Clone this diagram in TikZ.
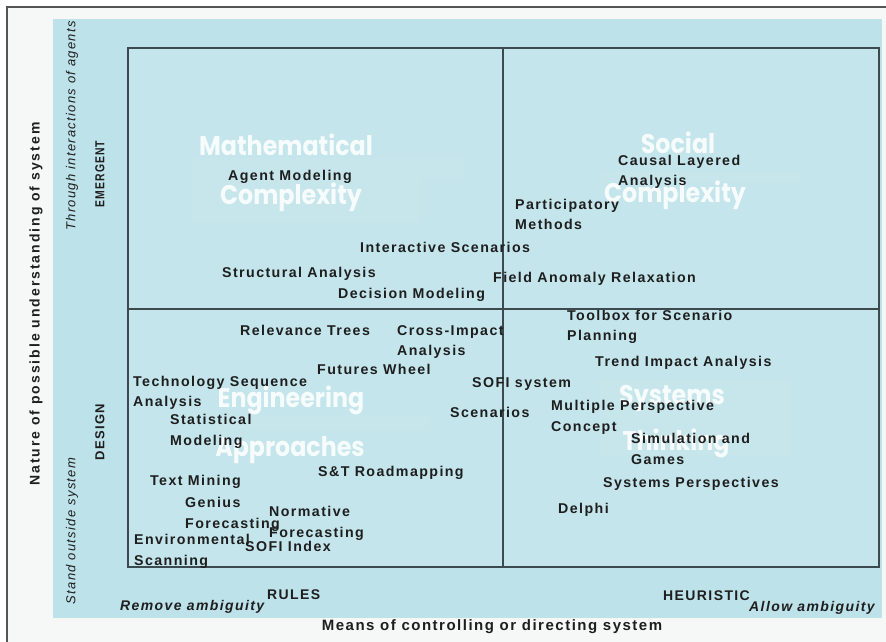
\documentclass[tikz,border=0pt]{standalone}
\usepackage{fontspec}
\setmainfont{Liberation Sans}
\newfontfamily\lblfont[LetterSpace=10]{Liberation Sans}
\newfontfamily\widefont[LetterSpace=14]{Liberation Sans}
\newfontfamily\bigfont{Poppins}
\definecolor{pagebg}{HTML}{F6F8F8}
\definecolor{outerblue}{HTML}{BDE2E9}
\definecolor{innerblue}{HTML}{C3E5EB}
\definecolor{linecol}{HTML}{3C4A50}
\definecolor{framecol}{HTML}{555555}
\definecolor{textcol}{HTML}{1E1E1E}
\newcommand{\bigtxt}[1]{\scalebox{0.88}[1]{#1}}
\tikzset{
  lbl/.style={anchor=north west, inner sep=0pt, align=left, text=textcol,
    font=\fontsize{14.2}{20.5}\lblfont\bfseries},
  bottomlbl/.style={anchor=base west, inner sep=0pt, text=textcol,
    font=\fontsize{14}{16}\lblfont\bfseries},
  amblbl/.style={anchor=base west, inner sep=0pt, text=textcol,
    font=\fontsize{14}{16}\lblfont\bfseries\itshape},
  sidelbl/.style={rotate=90, inner sep=0pt, text=textcol,
    font=\fontsize{13}{16}\lblfont},
  bigwhite/.style={inner sep=0pt, text=white, text opacity=0.85,
    font=\fontsize{27}{30}\bigfont\bfseries},
  band/.style={fill=white, fill opacity=0.07, draw=none}
}
\begin{document}
\begin{tikzpicture}[x=1pt, y=-1pt]
\useasboundingbox (0,0) rectangle (886,641);
\clip (0,0) rectangle (886,641);
\fill[white] (0,0) rectangle (886,641);
% outer frame
\fill[pagebg] (7,7) rectangle (900,660);
\draw[framecol, line width=1.6pt] (7,660) -- (7,7) -- (900,7);
% blue background
\fill[outerblue] (53,19) rectangle (882,618);
% inner box
\fill[innerblue] (128,48) rectangle (879,567);
\fill[band] (192,158) rectangle (463,178);
\fill[band] (192,178) rectangle (420,222);
\fill[band] (602,172) rectangle (800,182);
\fill[band] (215,415) rectangle (430,430);
\fill[band] (600,380) rectangle (790,455);
\draw[linecol, line width=1.5pt] (128,48) rectangle (879,567);
\draw[linecol, line width=1.5pt] (503,48) -- (503,567);
\draw[linecol, line width=1.5pt] (128,309) -- (879,309);

% big white quadrant titles
\node[bigwhite] (mathT) at (286,145) {\bigtxt{Mathematical}};
\node[bigwhite] (mathC) at (291,197) {\bigtxt{Complexity}};
\node[bigwhite] (socT) at (678,143) {\bigtxt{Social}};
\node[bigwhite] (socC) at (675,195) {\bigtxt{Complexity}};
\node[bigwhite] (engT) at (291,400) {\bigtxt{Engineering}};
\node[bigwhite] (engA) at (290,450) {\bigtxt{Approaches}};
\node[bigwhite] (sysT) at (672,398) {\bigtxt{Systems}};
\node[bigwhite] (sysK) at (676,443) {\bigtxt{Thinking}};

% top-left quadrant
\node[lbl] (am) at (228,170) {Agent Modeling};
\node[lbl] (is) at (360,242) {Interactive Scenarios};
\node[lbl] (sa) at (222,267) {Structural Analysis};
\node[lbl] (dm) at (338,288) {Decision Modeling};
% top-right quadrant
\node[lbl] (cla) at (618,155) {Causal Layered\\Analysis};
\node[lbl] (pm) at (515,199) {Participatory\\Methods};
\node[lbl] (far) at (493,272) {Field Anomaly Relaxation};
% bottom-left quadrant
\node[lbl] (rt) at (240,325) {Relevance Trees};
\node[lbl] (cia) at (397,325) {Cross-Impact\\Analysis};
\node[lbl] (fw) at (317,364) {Futures Wheel};
\node[lbl] (tsa) at (133,376) {Technology Sequence\\Analysis};
\node[lbl] (stm) at (170,414) {Statistical\\Modeling};
\node[lbl] (str) at (318,466) {S\&T Roadmapping};
\node[lbl] (tm) at (150,475) {Text Mining};
\node[lbl] (gf) at (185,497) {Genius\\Forecasting};
\node[lbl] (nf) at (269,506) {Normative\\Forecasting};
\node[lbl] (es) at (134,534) {Environmental\\Scanning};
\node[lbl] (si) at (245,541) {SOFI Index};
% bottom-right quadrant
\begin{scope}
\clip (503,310) rectangle (879,567);
\node[lbl] (tsp) at (567,310) {Toolbox for Scenario\\Planning};
\end{scope}
\node[lbl] (tia) at (595,356) {Trend Impact Analysis};
\node[lbl] (ss) at (472,377) {SOFI system};
\node[lbl] (sc) at (450,407) {Scenarios};
\node[lbl] (mpc) at (551,400) {Multiple Perspective\\Concept};
\node[lbl] (sg) at (631,433) {Simulation and\\Games};
\node[lbl] (sp) at (603,477) {Systems Perspectives};
\node[lbl] (de) at (558,503) {Delphi};

% bottom axis
\node[bottomlbl] (rules) at (267,599) {RULES};
\node[amblbl] (remove) at (120,610) {Remove ambiguity};
\node[bottomlbl] (heur) at (663,600) {HEURISTIC};
\node[amblbl] (allow) at (749,611) {Allow ambiguity};
\node[bottomlbl, anchor=base, font=\fontsize{15}{16}\lblfont\bfseries] (means) at (492,630) {Means of controlling or directing system};

% left axis
\node[sidelbl, font=\fontsize{14}{16}\widefont\bfseries] (nature) at (36,304) {Nature of possible understanding of system};
\node[sidelbl, font=\fontsize{13}{16}\lblfont\itshape] (through) at (72,126) {Through interactions of agents};
\node[sidelbl, font=\fontsize{13}{16}\lblfont\bfseries] (emergent) at (100,174) {\scalebox{0.8}[1]{EMERGENT}};
\node[sidelbl, font=\fontsize{13}{16}\lblfont\itshape] (stand) at (72,531) {Stand outside system};
\node[sidelbl, font=\fontsize{13}{16}\lblfont\bfseries] (design) at (100,432) {DESIGN};
\end{tikzpicture}
\end{document}
